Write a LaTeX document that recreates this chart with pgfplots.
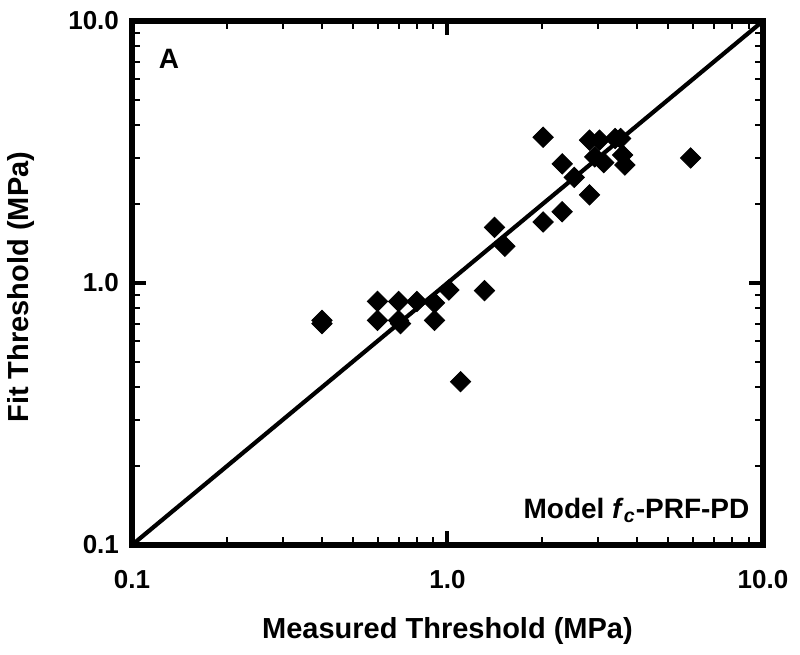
\documentclass[border=0pt]{standalone}
\usepackage{fontspec}
\setmainfont{Liberation Sans}
\usepackage{pgfplots}
\pgfplotsset{compat=1.18}
\begin{document}
\begin{tikzpicture}
\begin{axis}[
 scale only axis, width=315.5pt, height=262pt,
 xmode=log, ymode=log, xmin=0.1, xmax=10, ymin=0.1, ymax=10,
 xtick={0.1,1,10}, ytick={0.1,1,10},
 xticklabels={0.1,1.0,10.0}, yticklabels={0.1,1.0,10.0},
 tick align=inside,
 major tick length=7pt, minor tick length=4pt,
 tick style={black, line width=1pt},
 major tick style={line width=2pt},
 axis line style={line width=2.7pt},
 ticklabel style={font=\fontsize{13}{15}\selectfont\bfseries},
 /pgf/number format/assume math mode=true,
 xticklabel style={yshift=-9pt},
 yticklabel style={xshift=-3pt},
 xlabel={Measured Threshold (MPa)}, ylabel={Fit Threshold (MPa)},
 label style={font=\fontsize{14.5}{17}\selectfont\bfseries},
 xlabel style={at={(axis description cs:0.5,-0.165)}, anchor=center},
 ylabel style={at={(axis description cs:-0.176,0.492)}, anchor=center},
 clip=false,
]
\addplot[black, line width=2.1pt] coordinates {(0.1,0.1) (10,10)};
\addplot[only marks, mark=square*, mark size=3.6pt, mark options={rotate=45, fill=black, draw=black}] coordinates {
(0.40,0.70) (0.40,0.72)
(0.60,0.85) (0.60,0.72)
(0.70,0.85) (0.70,0.72) (0.71,0.70)
(0.80,0.85)
(0.91,0.84) (0.91,0.72)
(1.01,0.94)
(1.31,0.935)
(1.10,0.42)
(1.41,1.63)
(1.52,1.38)
(2.01,3.60) (2.01,1.71)
(2.31,2.85) (2.31,1.87)
(2.52,2.53)
(2.82,2.17) (2.82,3.51)
(3.03,3.51)
(2.93,3.03)
(3.13,2.88)
(3.40,3.56) (3.54,3.56)
(3.59,3.08)
(3.65,2.82)
(5.9,3.0)
};
\node[font=\fontsize{14}{16}\selectfont\bfseries] at (rel axis cs:0.0586,0.927) {A};
\node[anchor=base east, font=\fontsize{14}{16}\selectfont\bfseries, inner sep=0pt] at (rel axis cs:0.979,0.0515) {Model \textit{f}\textsubscript{\textit{c}}-PRF-PD};
\end{axis}
\pgfresetboundingbox
\path[use as bounding box] ([xshift=-66pt,yshift=-55pt]current axis.south west) rectangle ([xshift=18.5pt,yshift=10.5pt]current axis.north east);
\end{tikzpicture}
\end{document}
